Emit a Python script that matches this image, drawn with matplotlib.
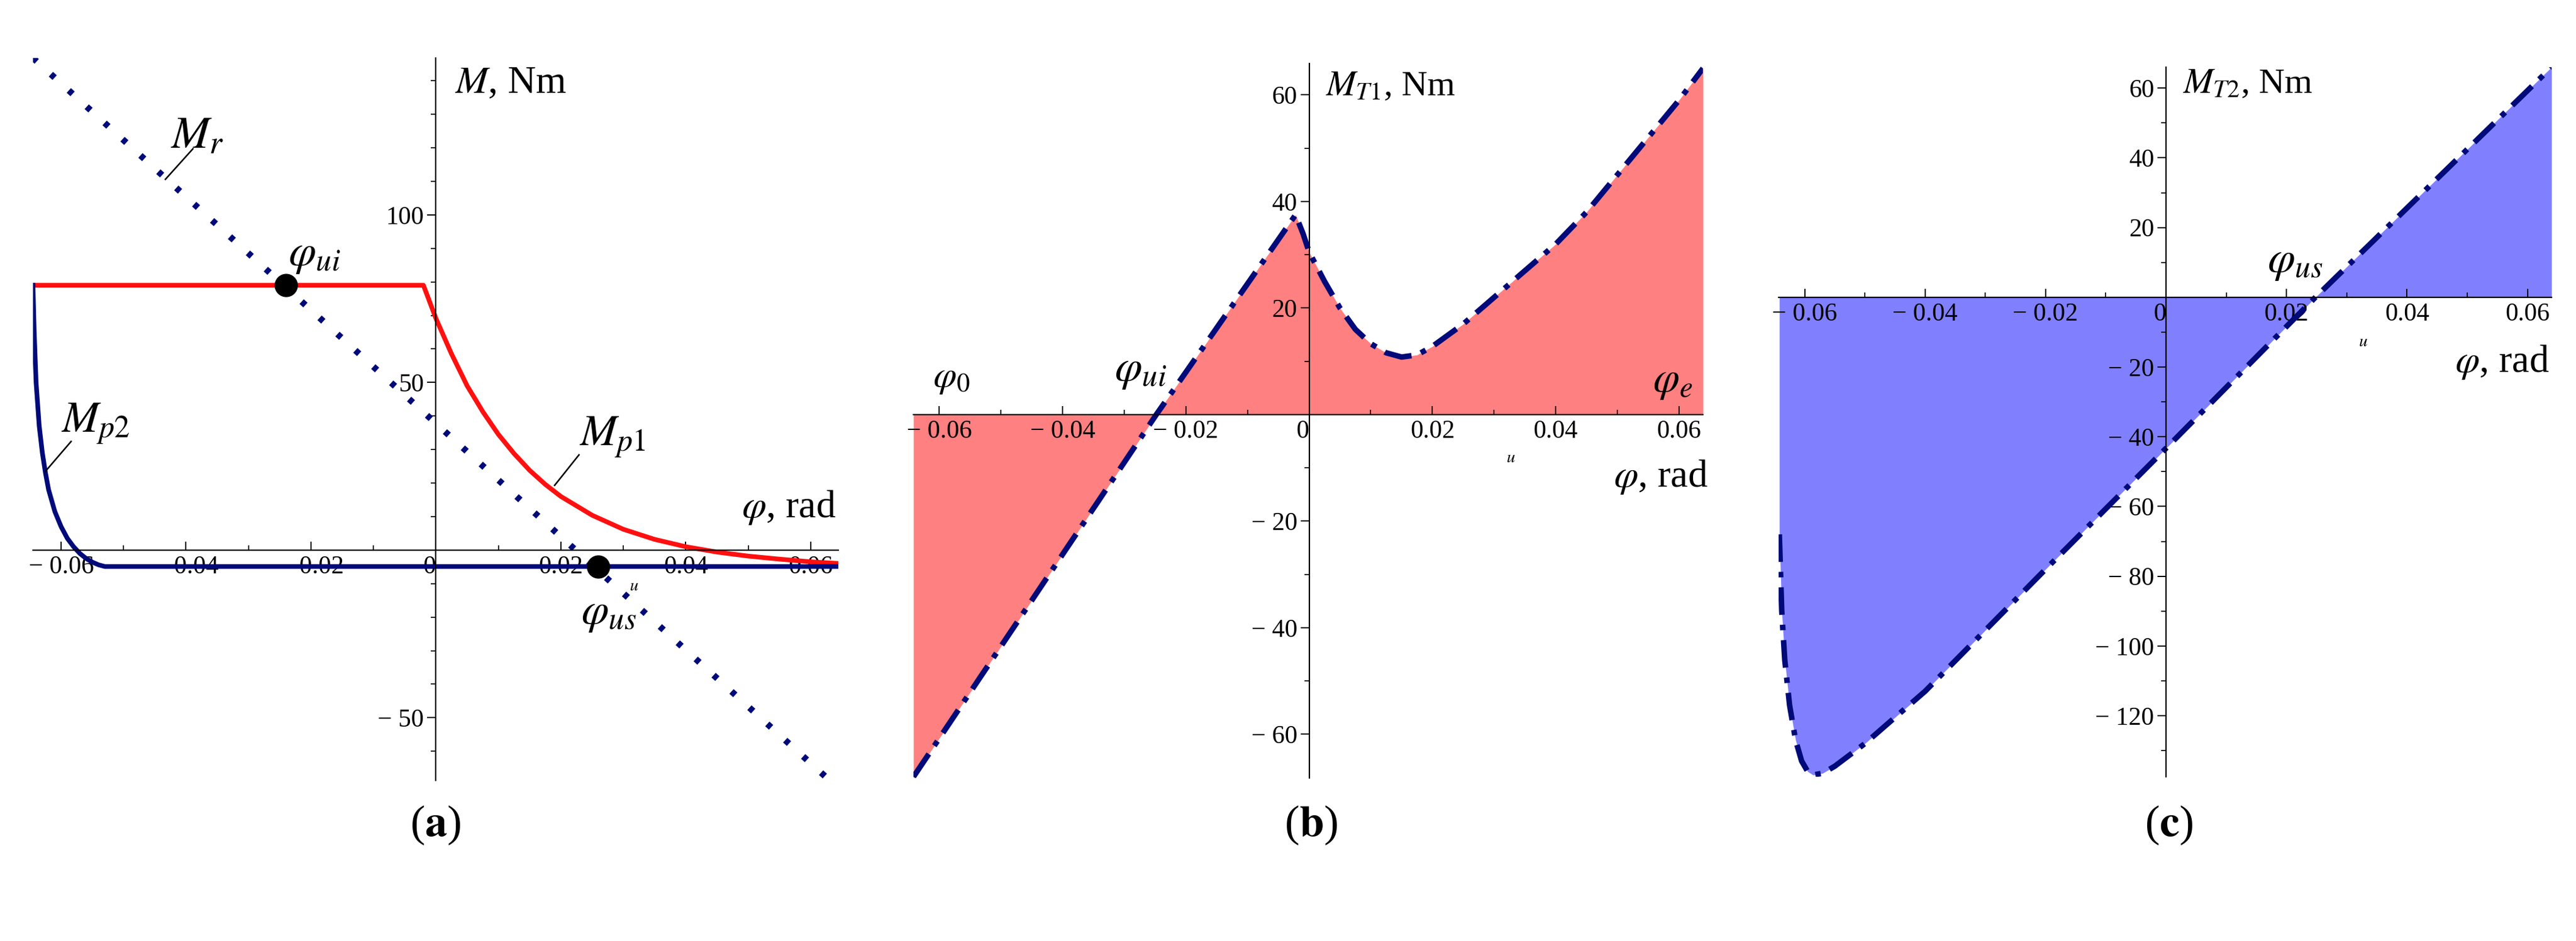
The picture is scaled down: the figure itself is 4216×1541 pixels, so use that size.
import numpy as np
import matplotlib
matplotlib.use("Agg")
import matplotlib.pyplot as plt

plt.rcParams['font.family'] = ['Liberation Serif', 'DejaVu Serif']
plt.rcParams['mathtext.fontset'] = 'stix'

NAVY = '#000a78'
RED = '#ff1010'

# ---- panel (a) data
mr_x = [-0.0645, 0.0626]
mr_y = [146.8, -68.0]
mp1_x = [-0.0645, -0.002, 0.0, 0.0025, 0.005, 0.0075, 0.01, 0.0125, 0.015, 0.0175, 0.02, 0.025,
         0.03, 0.035, 0.04, 0.045, 0.05, 0.055, 0.06, 0.0645]
mp1_y = [79, 79, 69.1, 58.5, 49.0, 41.3, 34.5, 28.8, 23.8, 19.6, 16.0, 10.4,
         6.2, 3.2, 1.0, -0.6, -1.8, -2.7, -3.5, -4.0]
mp2_x = [-0.0645, -0.0643, -0.064, -0.0635, -0.063, -0.0625, -0.062, -0.061, -0.060, -0.059,
         -0.058, -0.057, -0.056, -0.055, -0.054, -0.053, 0.0645]
mp2_y = [79, 65, 50, 37, 29, 23, 18, 11.5, 7, 3.5, 1, -1, -2.5, -3.6, -4.4, -4.9, -4.9]
pts_x = [-0.024, 0.026]
pts_y = [79, -4.9]

# ---- panel (b) data
mt1_x = [-0.0642, -0.0248, -0.0022, -0.001, 0.0, 0.0025, 0.005, 0.0075, 0.01, 0.0125, 0.015,
         0.0175, 0.02, 0.025, 0.03, 0.035, 0.04, 0.045, 0.05, 0.055, 0.06, 0.0639]
mt1_y = [-68, 0, 37.5, 34, 30.5, 25, 20, 16, 13.3, 11.6, 10.8,
         11.2, 12.8, 17, 22, 27, 32, 38, 45, 52, 59, 65]

# ---- panel (c) data
mt2_x = [-0.0642, -0.0638, -0.0633, -0.0625, -0.0615, -0.0605, -0.0595, -0.0586, -0.057,
         -0.055, -0.05, -0.04, -0.02, 0.0, 0.0248, 0.064]
mt2_y = [-68, -90, -104, -117, -127, -133, -136, -137, -136.5,
         -134.5, -128, -113, -78, -43.3, 0, 66]

xt = [-0.06, -0.04, -0.02, 0, 0.02, 0.04, 0.06]
xt_lab = ['− 0.06', '− 0.04', '− 0.02', '0', '0.02', '0.04', '0.06']
DASHDOT = (0, (5, 1.8, 1, 1.8))
TFS = 30
LFS = 46


def setup(ax, xlim, ylim, yt, ytl):
    ax.set_xlim(*xlim)
    ax.set_ylim(*ylim)
    for s in ('top', 'right'):
        ax.spines[s].set_visible(False)
    ax.spines['left'].set_position(('data', 0))
    ax.spines['bottom'].set_position(('data', 0))
    for s in ('left', 'bottom'):
        ax.spines[s].set_linewidth(1.6)
    ax.set_xticks(xt)
    ax.set_xticklabels(xt_lab)
    ax.set_xticks(np.arange(-0.06, 0.061, 0.01), minor=True)
    ax.set_yticks(yt)
    ax.set_yticklabels(ytl)
    ax.set_yticks(np.arange(ylim[0] // 10 * 10 + 10, ylim[1], 10), minor=True)
    ax.tick_params(axis='x', which='major', direction='in', length=10, width=1.4, labelsize=TFS, pad=6)
    ax.tick_params(axis='x', which='minor', direction='in', length=6, width=1.2)
    ax.tick_params(axis='y', which='major', direction='out', length=10, width=1.4, labelsize=TFS, pad=4)
    ax.tick_params(axis='y', which='minor', direction='out', length=6, width=1.2)
    for lab in ax.get_xticklabels():
        if lab.get_text() == '0':
            lab.set_horizontalalignment('right')


fig = plt.figure(figsize=(42.16, 15.41), dpi=100)

# (a)
ax = fig.add_axes([0.0128, 0.1707, 0.3126, 0.7677])
setup(ax, (-0.0645, 0.0644), (-68.7, 146.8), [-50, 50, 100], ['− 50', '50', '100'])
ax.plot(mr_x, mr_y, color=NAVY, lw=7.5, linestyle=(0, (0.8, 3.0)))
ax.plot(mp1_x, mp1_y, color=RED, lw=5.5, solid_joinstyle='round')
ax.plot(mp2_x, mp2_y, color=NAVY, lw=5.5, solid_joinstyle='round')
ax.scatter(pts_x, pts_y, s=700, color='black', zorder=5)
ax.text(0.003, 134, r'$M$, Nm', fontsize=LFS, va='bottom')
ax.text(-0.0425, 117, r'$M_r$', fontsize=LFS + 8, va='bottom')
ax.plot([-0.0389, -0.0433], [119.7, 110.6], color='black', lw=1.8)
ax.text(-0.060, 31, r'$M_{p2}$', fontsize=LFS + 6, va='bottom')
ax.plot([-0.0584, -0.0625], [32.4, 23.5], color='black', lw=1.8)
ax.text(0.0229, 27, r'$M_{p1}$', fontsize=LFS + 6, va='bottom')
ax.plot([0.0229, 0.019], [28.4, 19.3], color='black', lw=1.8)
ax.text(-0.0236, 82, r'$\varphi_{ui}$', fontsize=LFS + 6, va='bottom')
ax.text(0.0232, -25, r'$\varphi_{us}$', fontsize=LFS + 6, va='bottom')
ax.text(0.031, -12, r'$u$', fontsize=20)
ax.text(0.049, 7, r'$\varphi$, rad', fontsize=LFS, va='bottom')

# (b)
ax = fig.add_axes([0.3546, 0.1733, 0.3065, 0.7592])
setup(ax, (-0.0642, 0.0639), (-68.2, 65.9), [-60, -40, -20, 20, 40, 60],
      ['− 60', '− 40', '− 20', '20', '40', '60'])
ax.fill_between(mt1_x, mt1_y, 0, color='#ff8080', lw=0)
ax.plot(mt1_x, mt1_y, color=NAVY, lw=6.5, linestyle=DASHDOT)
ax.text(0.0026, 58.5, r'$M_{T1}$, Nm', fontsize=LFS - 4, va='bottom')
ax.text(-0.061, 3.5, r'$\varphi_0$', fontsize=LFS - 2, va='bottom')
ax.text(-0.0316, 4.5, r'$\varphi_{ui}$', fontsize=LFS + 6, va='bottom')
ax.text(0.0558, 2.5, r'$\varphi_e$', fontsize=LFS + 4, va='bottom')
ax.text(0.032, -9, r'$u$', fontsize=20)
ax.text(0.0494, -15.2, r'$\varphi$, rad', fontsize=LFS, va='bottom')

# (c)
ax = fig.add_axes([0.6905, 0.1746, 0.3000, 0.7540])
setup(ax, (-0.0643, 0.064), (-137.5, 66), [-120, -100, -80, -60, -40, -20, 20, 40, 60],
      ['− 120', '− 100', '− 80', '− 60', '− 40', '− 20', '20', '40', '60'])
ax.fill_between(mt2_x, mt2_y, 0, color='#8080ff', lw=0)
ax.plot(mt2_x, mt2_y, color=NAVY, lw=6.5, linestyle=DASHDOT)
ax.text(0.0027, 56.5, r'$M_{T2}$, Nm', fontsize=LFS - 4, va='bottom')
ax.text(0.0168, 4.3, r'$\varphi_{us}$', fontsize=LFS + 6, va='bottom')
ax.text(0.032, -14, r'$u$', fontsize=20)
ax.text(0.048, -24, r'$\varphi$, rad', fontsize=LFS, va='bottom')

fig.text(0.169, 0.123, r'($\mathbf{a}$)', fontsize=52, ha='center', va='center')
fig.text(0.5088, 0.123, r'($\mathbf{b}$)', fontsize=52, ha='center', va='center')
fig.text(0.842, 0.123, r'($\mathbf{c}$)', fontsize=52, ha='center', va='center')

fig.savefig('out.png', dpi=100, facecolor='white')
